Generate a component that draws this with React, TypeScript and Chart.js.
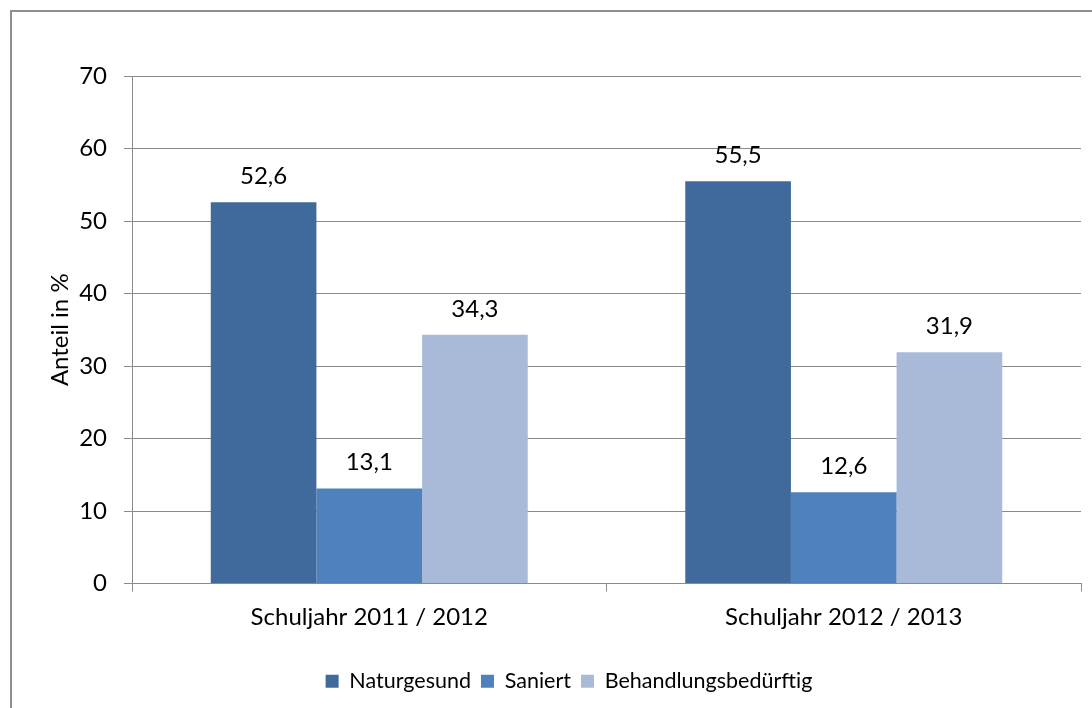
import React, { useEffect, useRef } from "react";
import { Chart, registerables } from "chart.js";

Chart.register(...registerables);

const categories = ["Schuljahr 2011 / 2012", "Schuljahr 2012 / 2013"];
const naturgesund = [52.6, 55.5];
const saniert = [13.1, 12.6];
const behandlungsbeduerftig = [34.3, 31.9];
const seriesNames = ["Naturgesund", "Saniert", "Behandlungsbedürftig"];
const yTickValues = [0, 10, 20, 30, 40, 50, 60, 70];

const FONT = "Lato";
const FS = 24;
const LEGEND_FS = 21.5;
const GRID = "#8a8a8a";

const fmt = (v: number) => v.toFixed(1).replace(".", ",");

const frame = {
  id: "frame",
  beforeDraw(chart: any) {
    const ctx = chart.ctx;
    ctx.save();
    ctx.fillStyle = "#ffffff";
    ctx.fillRect(0, 0, chart.width, chart.height);
    ctx.fillStyle = "#8f8f8f";
    ctx.fillRect(10, 10, chart.width, 2);
    ctx.fillRect(10, 10, 2, chart.height);
    ctx.restore();
  },
};

const valueLabels = {
  id: "valueLabels",
  afterDatasetsDraw(chart: any) {
    const ctx = chart.ctx;
    ctx.save();
    ctx.font = `${FS}px ${FONT}`;
    ctx.fillStyle = "#000000";
    ctx.textAlign = "center";
    ctx.textBaseline = "middle";
    chart.data.datasets.forEach((ds: any, i: number) => {
      const meta = chart.getDatasetMeta(i);
      meta.data.forEach((bar: any, j: number) => {
        ctx.fillText(fmt(ds.data[j]), bar.x, bar.y - 26);
      });
    });
    ctx.restore();
  },
};

export default function App() {
  const ref = useRef<HTMLCanvasElement>(null);
  useEffect(() => {
    if (!ref.current) return;
    const chart = new Chart(ref.current, {
      type: "bar",
      data: {
        labels: categories,
        datasets: [
          { label: seriesNames[0], data: naturgesund, backgroundColor: "#3f6a9b" },
          { label: seriesNames[1], data: saniert, backgroundColor: "#4f81bd" },
          { label: seriesNames[2], data: behandlungsbeduerftig, backgroundColor: "#a9bad8" },
        ],
      },
      options: {
        animation: false,
        responsive: false,
        maintainAspectRatio: false,
        layout: { padding: { left: 57, right: 11, top: 76, bottom: 6 } },
        datasets: { bar: { categoryPercentage: 0.668, barPercentage: 1 } },
        plugins: {
          legend: {
            position: "bottom",
            labels: {
              boxWidth: 13,
              boxHeight: 13,
              padding: 10,
              color: "#000000",
              font: { family: FONT, size: LEGEND_FS },
            },
          },
          tooltip: { enabled: false },
        },
        scales: {
          x: {
            grid: {
              offset: true,
              drawOnChartArea: false,
              drawTicks: true,
              tickLength: 8,
              color: GRID,
            },
            border: { display: true, color: GRID, width: 1 },
            ticks: { color: "#000000", font: { family: FONT, size: FS }, padding: 11 },
            afterFit: (s: any) => {
              s.height = 77;
            },
          },
          y: {
            min: 0,
            max: 70,
            afterBuildTicks: (s: any) => {
              s.ticks = yTickValues.map((v) => ({ value: v }));
            },
            grid: { color: GRID, tickLength: 8, drawTicks: true },
            border: { display: true, color: GRID, width: 1 },
            ticks: { color: "#000000", font: { family: FONT, size: FS }, padding: 17 },
            title: {
              display: true,
              text: "Anteil in %",
              color: "#000000",
              font: { family: FONT, size: FS },
              padding: { top: -11, bottom: 0 },
            },
            afterFit: (s: any) => {
              s.width = 75;
            },
          },
        },
      },
      plugins: [frame, valueLabels],
    });
    return () => chart.destroy();
  }, []);
  return (
    <div style={{ position: "fixed", left: 0, top: 0, width: 1092, height: 708 }}>
      <canvas ref={ref} width={1092} height={708} style={{ width: 1092, height: 708 }} />
    </div>
  );
}
